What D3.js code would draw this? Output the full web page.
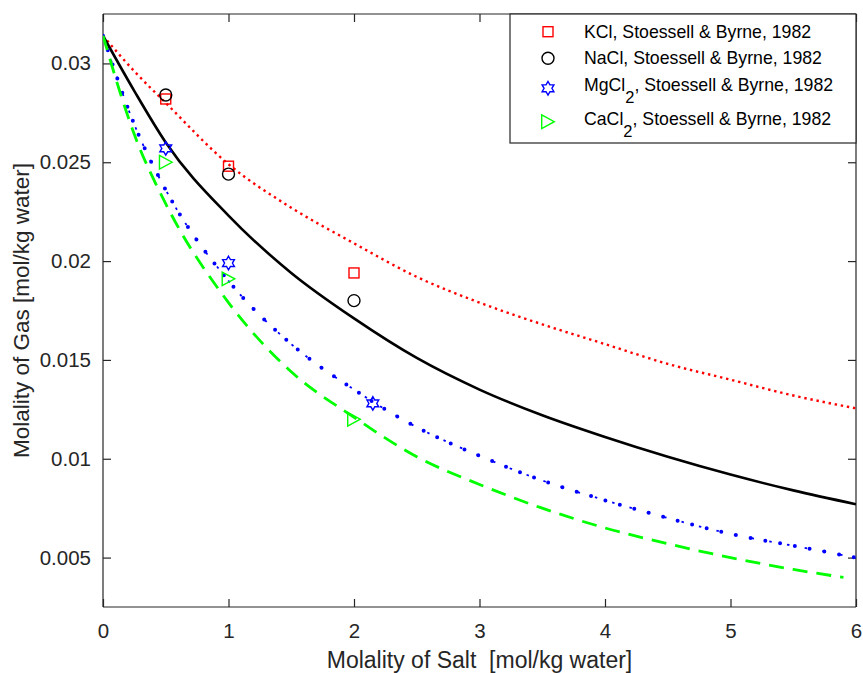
<!DOCTYPE html>
<html>
<head>
<meta charset="utf-8">
<script src="https://cdn.jsdelivr.net/npm/d3@7"></script>
<style>
  html, body { margin: 0; padding: 0; background: #ffffff; }
  svg { display: block; font-family: "Liberation Sans", Arial, Helvetica, sans-serif; }
  text { white-space: pre; }
</style>
</head>
<body>
<svg id="chart" width="863" height="673"></svg>
<script>
// ---------------- data ----------------
const lineX      = [0, 0.25, 0.5, 1, 1.5, 2, 2.5, 3, 3.5, 4, 4.5, 5, 5.5, 6];
const kclLine    = [0.0314, 0.0296, 0.0280, 0.0249, 0.0227, 0.0209, 0.0192, 0.0179, 0.0168, 0.0158, 0.0148, 0.0140, 0.0132, 0.01255];
const naclLine   = [0.0314, 0.0286, 0.0260, 0.0223, 0.0194, 0.0171, 0.0151, 0.0135, 0.0122, 0.0111, 0.0101, 0.0092, 0.0084, 0.0077];
const mgcl2Line  = [0.0314, 0.0269, 0.0236, 0.0190, 0.0158, 0.0135, 0.0116, 0.01015, 0.0089, 0.0079, 0.0070, 0.0062, 0.0056, 0.0050];
const cacl2LineX = [0, 0.25, 0.5, 1, 1.5, 2, 2.5, 3, 3.5, 4, 4.5, 5, 5.5, 5.9];
const cacl2Line  = [0.0314, 0.0264, 0.0229, 0.0179, 0.0144, 0.0121, 0.0101, 0.0087, 0.0075, 0.0065, 0.0057, 0.0050, 0.0044, 0.0040];

const kclX   = [0.5, 1, 2],    kclY   = [0.0282, 0.0248, 0.0194];
const naclX  = [0.5, 1, 2],    naclY  = [0.0284, 0.0244, 0.0180];
const mgcl2X = [0.5, 1, 2.15], mgcl2Y = [0.0257, 0.0199, 0.0128];
const cacl2X = [0.5, 1, 2],    cacl2Y = [0.0250, 0.0191, 0.0120];

const xTicks = [0, 1, 2, 3, 4, 5, 6];
const yTicks = [0.005, 0.01, 0.015, 0.02, 0.025, 0.03];
const yTickLabels = ["0.005", "0.01", "0.015", "0.02", "0.025", "0.03"];

const legendLabels = [
  {name: "KCl", sub: "", rest: ", Stoessell & Byrne, 1982"},
  {name: "NaCl", sub: "", rest: ", Stoessell & Byrne, 1982"},
  {name: "MgCl", sub: "2", rest: ", Stoessell & Byrne, 1982"},
  {name: "CaCl", sub: "2", rest: ", Stoessell & Byrne, 1982"}
];
const xLabel = "Molality of Salt  [mol/kg water]";
const yLabel = "Molality of Gas [mol/kg water]";

// ---------------- layout ----------------
const svg = d3.select("#chart");
const L = 103, R = 856, T = 14, B = 607;
const axisColor = "#262626";
const x = d3.scaleLinear().domain([0, 6]).range([L, R]);
const y = d3.scaleLinear().domain([0.0025, 0.0325]).range([B, T]);

svg.append("rect").attr("x", 0).attr("y", 0).attr("width", 863).attr("height", 673).attr("fill", "#fff");

const clip = svg.append("defs").append("clipPath").attr("id", "plotclip");
clip.append("rect").attr("x", L).attr("y", T).attr("width", R - L).attr("height", B - T);

// axes (box with inward ticks)
const tickLen = 8;
const gx = svg.append("g").attr("transform", `translate(0,${B})`)
  .call(d3.axisBottom(x).tickValues(xTicks).tickSize(-tickLen).tickPadding(16).tickFormat(d3.format("d")));
const gxt = svg.append("g").attr("transform", `translate(0,${T})`)
  .call(d3.axisTop(x).tickValues(xTicks).tickSize(-tickLen).tickFormat(""));
const gy = svg.append("g").attr("transform", `translate(${L},0)`)
  .call(d3.axisLeft(y).tickValues(yTicks).tickSize(-tickLen).tickPadding(12).tickFormat((d, i) => yTickLabels[i]));
const gyr = svg.append("g").attr("transform", `translate(${R},0)`)
  .call(d3.axisRight(y).tickValues(yTicks).tickSize(-tickLen).tickFormat(""));
[gx, gxt, gy, gyr].forEach(g => {
  g.selectAll(".domain").attr("stroke", axisColor).attr("stroke-width", 1.2);
  g.selectAll(".tick line").attr("stroke", axisColor).attr("stroke-width", 1.2);
  g.selectAll(".tick text").attr("fill", axisColor).attr("font-size", 20.5)
    .attr("font-family", "'Liberation Sans', Arial, sans-serif");
});
[gx, gxt, gy, gyr].forEach(g => {
  const dom = g.select(".domain");
  const isX = (g === gx || g === gxt);
  if (isX) dom.attr("d", `M${L},0H${R}`); else dom.attr("d", `M0,${T}V${B}`);
});

// axis labels
svg.append("text").attr("x", (L + R) / 2).attr("y", 668).attr("text-anchor", "middle")
  .attr("font-size", 23).attr("fill", axisColor).text(xLabel);
svg.append("text").attr("transform", `translate(29,${(T + B) / 2}) rotate(-90)`).attr("text-anchor", "middle")
  .attr("font-size", 22.5).attr("fill", axisColor).text(yLabel);

// ---------------- lines ----------------
const plot = svg.append("g").attr("clip-path", "url(#plotclip)");
const mk = (xs, ys) => xs.map((d, i) => [d, ys[i]]);
const lineGen = d3.line().x(d => x(d[0])).y(d => y(d[1])).curve(d3.curveMonotoneX);

// KCl red dotted
plot.append("path").attr("d", lineGen(mk(lineX, kclLine))).attr("fill", "none")
  .attr("stroke", "#ff0000").attr("stroke-width", 2.4).attr("stroke-dasharray", "2.4,3.8");
// NaCl black solid
plot.append("path").attr("d", lineGen(mk(lineX, naclLine))).attr("fill", "none")
  .attr("stroke", "#000000").attr("stroke-width", 2.6);
// MgCl2 blue dash-dot with dots
const mgPath = lineGen(mk(lineX, mgcl2Line));
plot.append("path").attr("d", mgPath).attr("fill", "none")
  .attr("stroke", "#0000ff").attr("stroke-width", 1.8).attr("stroke-dasharray", "0,7,2.5,8.5");
plot.append("path").attr("d", mgPath).attr("fill", "none")
  .attr("stroke", "#0000ff").attr("stroke-width", 4).attr("stroke-linecap", "round")
  .attr("stroke-dasharray", "0,15");
// CaCl2 green dashed
plot.append("path").attr("d", lineGen(mk(cacl2LineX, cacl2Line))).attr("fill", "none")
  .attr("stroke", "#00ff00").attr("stroke-width", 2.8).attr("stroke-dasharray", "15,9");

// ---------------- markers ----------------
const sq = 10, cr = 6, hexR = 6.8, tri = 6.3;
function hexagramPath(R0) {
  const r0 = R0 / Math.sqrt(3);
  const pts = [];
  for (let k = 0; k < 12; k++) {
    const a = -Math.PI / 2 + k * Math.PI / 6;
    const rr = k % 2 === 0 ? R0 : r0;
    pts.push([rr * Math.cos(a), rr * Math.sin(a)]);
  }
  return "M" + pts.map(p => p.join(",")).join("L") + "Z";
}
function triPath(s) { return `M${-s},${-s * 1.08}L${s},0L${-s},${s * 1.08}Z`; }

function drawSquare(g, cx, cy) {
  g.append("rect").attr("x", cx - sq / 2).attr("y", cy - sq / 2).attr("width", sq).attr("height", sq)
    .attr("fill", "none").attr("stroke", "#ff0000").attr("stroke-width", 1.4);
}
function drawCircle(g, cx, cy) {
  g.append("circle").attr("cx", cx).attr("cy", cy).attr("r", cr)
    .attr("fill", "none").attr("stroke", "#000000").attr("stroke-width", 1.4);
}
function drawHex(g, cx, cy) {
  g.append("path").attr("d", hexagramPath(hexR)).attr("transform", `translate(${cx},${cy})`)
    .attr("fill", "none").attr("stroke", "#0000ff").attr("stroke-width", 1.4);
}
function drawTri(g, cx, cy) {
  g.append("path").attr("d", triPath(tri)).attr("transform", `translate(${cx},${cy})`)
    .attr("fill", "none").attr("stroke", "#00ff00").attr("stroke-width", 1.4);
}
const mg = svg.append("g");
kclX.forEach((d, i) => drawSquare(mg, x(d), y(kclY[i])));
naclX.forEach((d, i) => drawCircle(mg, x(d), y(naclY[i])));
mgcl2X.forEach((d, i) => drawHex(mg, x(d), y(mgcl2Y[i])));
cacl2X.forEach((d, i) => drawTri(mg, x(d), y(cacl2Y[i])));

// ---------------- legend ----------------
const lg = svg.append("g");
lg.append("rect").attr("x", 510).attr("y", T).attr("width", R - 510).attr("height", 129)
  .attr("fill", "#ffffff").attr("stroke", axisColor).attr("stroke-width", 1.2);
const rowMarkerY = [31.7, 58.3, 88.3, 121.7];
const rowTextY = [37.5, 64, 90.5, 124.5];
const drawers = [drawSquare, drawCircle, drawHex, drawTri];
legendLabels.forEach((lab, i) => {
  drawers[i](lg, 548, rowMarkerY[i]);
  const t = lg.append("text").attr("x", 584).attr("y", rowTextY[i]).attr("font-size", 17.7).attr("fill", "#000");
  t.append("tspan").text(lab.name);
  if (lab.sub) {
    t.append("tspan").attr("dy", 12).attr("font-size", 16.5).text(lab.sub);
    t.append("tspan").attr("dy", -12).text(lab.rest);
  } else {
    t.append("tspan").text(lab.rest);
  }
});
</script>
</body>
</html>
